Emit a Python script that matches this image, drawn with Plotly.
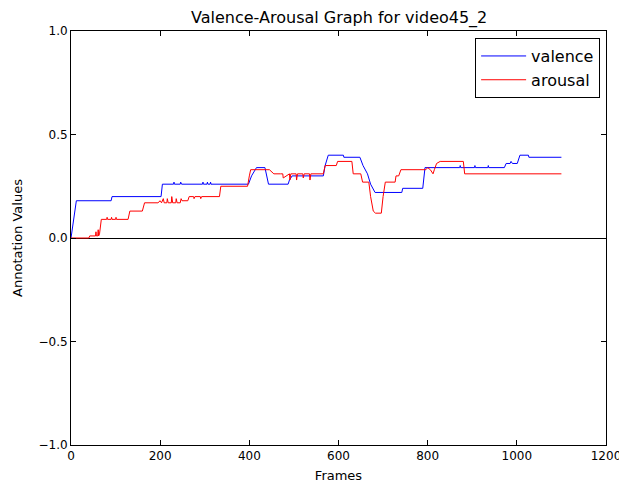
import plotly.graph_objects as go

title_text = "Valence-Arousal Graph for video45_2"
x_label = "Frames"
y_label = "Annotation Values"
x_ticks = [0, 200, 400, 600, 800, 1000, 1200]
y_ticks = [-1.0, -0.5, 0.0, 0.5, 1.0]
y_tick_labels = ["\u22121.0", "\u22120.5", "0.0", "0.5", "1.0"]

valence_frames = [0, 12, 90, 92, 202, 205, 230, 231, 232, 245, 246, 248, 295, 296, 297,
                  305, 306, 307, 312, 313, 314, 398, 405, 416, 435, 443, 487, 490, 496,
                  566, 570, 577, 611, 612, 648, 655, 665, 672, 682, 742, 744, 789, 794,
                  872, 873, 874, 905, 906, 907, 935, 936, 937, 972, 976, 985, 987, 990,
                  1001, 1007, 1026, 1027, 1100]
valence_values = [0.0, 0.18, 0.18, 0.20, 0.20, 0.26, 0.26, 0.27, 0.26, 0.26, 0.27, 0.26, 0.26, 0.27, 0.26,
                  0.26, 0.27, 0.26, 0.26, 0.27, 0.26, 0.26, 0.30, 0.34, 0.34, 0.26, 0.26, 0.28, 0.30,
                  0.30, 0.35, 0.40, 0.40, 0.39, 0.39, 0.35, 0.31, 0.26, 0.22, 0.22, 0.24, 0.24, 0.34,
                  0.34, 0.35, 0.34, 0.34, 0.35, 0.34, 0.34, 0.35, 0.34, 0.34, 0.36, 0.36, 0.37, 0.36,
                  0.36, 0.40, 0.40, 0.39, 0.39]

arousal_frames = [0, 40, 42, 55, 56, 57, 60, 61, 62, 64, 68, 80, 81, 82, 90, 91, 92, 100, 101, 102,
                  128, 132, 160, 165, 195, 200, 203, 207, 209, 215, 216, 218, 225, 226, 228, 235, 236,
                  238, 245, 247, 249, 255, 262, 265, 275, 276, 278, 290, 291, 293, 333, 336, 396, 400,
                  403, 445, 455, 470, 475, 476, 490, 491, 493, 505, 506, 508, 520, 521, 523, 535, 536,
                  538, 566, 570, 595, 598, 630, 633, 650, 654, 668, 672, 678, 683, 696, 700, 705, 727,
                  729, 735, 740, 796, 800, 806, 812, 815, 820, 828, 880, 883, 1100]
arousal_values = [0.0, 0.0, 0.01, 0.01, 0.03, 0.01, 0.01, 0.04, 0.01, 0.02, 0.09, 0.09, 0.10, 0.09, 0.09, 0.10, 0.09, 0.09, 0.10, 0.09,
                  0.09, 0.13, 0.13, 0.17, 0.17, 0.18, 0.17, 0.19, 0.17, 0.17, 0.19, 0.17, 0.17, 0.20, 0.17, 0.17, 0.19,
                  0.17, 0.17, 0.19, 0.18, 0.18, 0.18, 0.20, 0.20, 0.19, 0.20, 0.20, 0.19, 0.20, 0.20, 0.25, 0.25, 0.30,
                  0.33, 0.33, 0.31, 0.31, 0.31, 0.29, 0.31, 0.28, 0.31, 0.31, 0.28, 0.31, 0.31, 0.29, 0.31, 0.31, 0.28,
                  0.31, 0.31, 0.35, 0.35, 0.37, 0.37, 0.31, 0.31, 0.27, 0.27, 0.20, 0.13, 0.12, 0.12, 0.20, 0.27, 0.27,
                  0.30, 0.30, 0.33, 0.33, 0.34, 0.33, 0.31, 0.33, 0.36, 0.37, 0.37, 0.31, 0.31]

font_family = "DejaVu Sans"

fig = go.Figure()
fig.add_trace(go.Scatter(x=valence_frames, y=valence_values, mode="lines", name="valence",
                         line=dict(color="#0000ff", width=1)))
fig.add_trace(go.Scatter(x=arousal_frames, y=arousal_values, mode="lines", name="arousal",
                         line=dict(color="#ff0000", width=1)))

axis_common = dict(
    showline=True, linecolor="black", linewidth=1, mirror="allticks",
    ticks="inside", ticklen=5, tickcolor="black", tickwidth=1,
    showgrid=False, automargin=False,
    tickfont=dict(family=font_family, size=12, color="black"),
)

# the page body adds an 8px offset; figure sized so the plot area lands where the reference has it
fig.update_layout(
    width=619, height=475,
    paper_bgcolor="white", plot_bgcolor="white",
    margin=dict(l=63, r=21, t=23, b=38, autoexpand=False),
    title=dict(text=title_text, x=0.535, xref="container", xanchor="center",
               y=0.98, yref="container", yanchor="middle", automargin=False,
               font=dict(family=font_family, size=16, color="black")),
    xaxis=dict(range=[0, 1200], tickvals=x_ticks, ticktext=[str(t) for t in x_ticks],
               zeroline=False,
               title=dict(text=x_label, font=dict(family=font_family, size=13, color="black"), standoff=12),
               **axis_common),
    yaxis=dict(range=[-1, 1], tickvals=y_ticks, ticktext=y_tick_labels,
               zeroline=True, zerolinecolor="black", zerolinewidth=1,
               title=dict(text=y_label, font=dict(family=font_family, size=13, color="black"), standoff=12),
               **axis_common),
    legend=dict(x=0.989, y=0.983, xanchor="right", yanchor="top",
                bordercolor="black", borderwidth=1, bgcolor="white",
                font=dict(family=font_family, size=16, color="black"),
                itemwidth=45),
    showlegend=True,
)

fig.write_html("out.html")
